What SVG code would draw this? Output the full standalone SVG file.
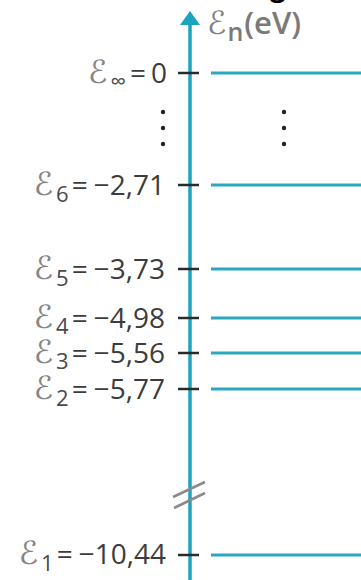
<svg xmlns="http://www.w3.org/2000/svg" width="361" height="580" viewBox="0 0 361 580">
<style>
.lbl{font-family:"Open Sans","DejaVu Sans",sans-serif;font-size:28px;fill:#3c3c3c;text-anchor:end}
.E{fill:#858585;font-family:"DejaVu Sans",sans-serif;font-size:32px}
.sub{font-size:22px;fill:#4a4a4a}
.level{stroke:#2ba8c1;stroke-width:3}
.tick{stroke:#2a2a2a;stroke-width:2.5}
.dot{fill:#222}
.hdr{font-family:"Open Sans","DejaVu Sans",sans-serif;font-size:31px;fill:#7a7a7a;font-weight:600}
</style>
<rect width="361" height="580" fill="#fff"/>
<text x="270" y="-4" font-family="Open Sans, sans-serif" font-size="28" font-weight="700" fill="#000">g</text>
<g id="axis">
<line x1="190" y1="20" x2="190" y2="580" stroke="#1ca3bf" stroke-width="3.5"/>
<polygon points="190,11 180,25 200,25" fill="#1ca3bf"/>
<line x1="173" y1="497" x2="205" y2="482" stroke="#8a8a8a" stroke-width="2.5"/>
<line x1="174" y1="508" x2="205" y2="493" stroke="#8a8a8a" stroke-width="2.5"/>
</g>
<g id="header">
<text class="hdr" x="207" y="34"><tspan class="E" style="font-weight:400">ℰ</tspan><tspan dy="7" dx="1" font-size="25">n</tspan><tspan dy="-7" dx="1">(eV)</tspan></text>
</g>
<g id="connectors">
<line class="level" x1="211" y1="73" x2="361" y2="73"/>
<line class="level" x1="211" y1="185" x2="361" y2="185"/>
<line class="level" x1="211" y1="269" x2="361" y2="269"/>
<line class="level" x1="211" y1="318" x2="361" y2="318"/>
<line class="level" x1="211" y1="353" x2="361" y2="353"/>
<line class="level" x1="211" y1="389" x2="361" y2="389"/>
<line class="level" x1="211" y1="555" x2="361" y2="555"/>
<line class="tick" x1="178" y1="73" x2="199" y2="73"/>
<line class="tick" x1="178" y1="185" x2="199" y2="185"/>
<line class="tick" x1="178" y1="269" x2="199" y2="269"/>
<line class="tick" x1="178" y1="318" x2="199" y2="318"/>
<line class="tick" x1="178" y1="353" x2="199" y2="353"/>
<line class="tick" x1="178" y1="389" x2="199" y2="389"/>
<line class="tick" x1="178" y1="555" x2="199" y2="555"/>
</g>
<g id="dots">
<circle class="dot" cx="163" cy="112" r="2.2"/>
<circle class="dot" cx="163" cy="128" r="2.2"/>
<circle class="dot" cx="163" cy="144" r="2.2"/>
<circle class="dot" cx="284" cy="112" r="2.2"/>
<circle class="dot" cx="284" cy="128" r="2.2"/>
<circle class="dot" cx="284" cy="144" r="2.2"/>
</g>
<g id="E_inf"><text class="lbl" x="167" y="83"><tspan class="E">ℰ</tspan><tspan class="sub" dy="6" dx="3">∞</tspan><tspan dy="-6" dx="4">=</tspan><tspan dx="5">0</tspan></text></g>
<g id="E6"><text class="lbl" x="165" y="195"><tspan class="E">ℰ</tspan><tspan class="sub" dy="7" dx="3">6</tspan><tspan dy="-7" dx="3">=</tspan><tspan dx="6">−2,71</tspan></text></g>
<g id="E5"><text class="lbl" x="165" y="279"><tspan class="E">ℰ</tspan><tspan class="sub" dy="7" dx="3">5</tspan><tspan dy="-7" dx="3">=</tspan><tspan dx="6">−3,73</tspan></text></g>
<g id="E4"><text class="lbl" x="165" y="328"><tspan class="E">ℰ</tspan><tspan class="sub" dy="6" dx="3">4</tspan><tspan dy="-6" dx="3">=</tspan><tspan dx="6">−4,98</tspan></text></g>
<g id="E3"><text class="lbl" x="165" y="363"><tspan class="E">ℰ</tspan><tspan class="sub" dy="6" dx="3">3</tspan><tspan dy="-6" dx="3">=</tspan><tspan dx="6">−5,56</tspan></text></g>
<g id="E2"><text class="lbl" x="165" y="399"><tspan class="E">ℰ</tspan><tspan class="sub" dy="7" dx="3">2</tspan><tspan dy="-7" dx="3">=</tspan><tspan dx="6">−5,77</tspan></text></g>
<g id="E1"><text class="lbl" x="166" y="564"><tspan class="E">ℰ</tspan><tspan class="sub" dy="7" dx="3">1</tspan><tspan dy="-7" dx="3">=</tspan><tspan dx="6">−10,44</tspan></text></g>
</svg>
